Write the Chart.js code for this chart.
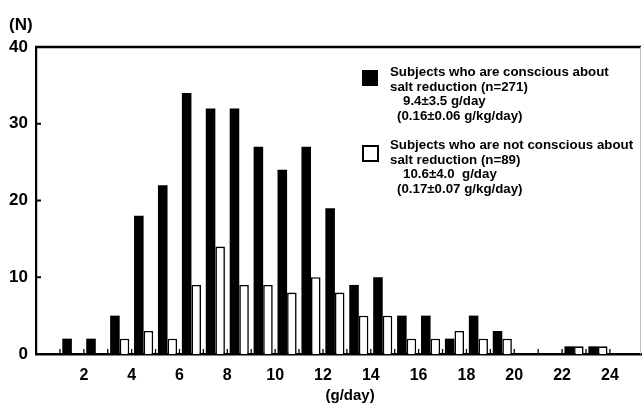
<!DOCTYPE html>
<html><head><meta charset="utf-8">
<script src="https://cdn.jsdelivr.net/npm/chart.js@4/dist/chart.umd.min.js"></script>
<style>
html,body{margin:0;padding:0;background:#fff;}
#wrap{position:relative;width:643px;height:405px;overflow:hidden;font-family:"Liberation Sans",Arial,sans-serif;font-weight:bold;color:#000;}
canvas{position:absolute;left:0;top:0;}
.t{position:absolute;white-space:pre;}
.sq{position:absolute;box-sizing:border-box;}
.lg{position:absolute;font-size:13.3px;line-height:14.5px;white-space:pre;}
</style></head><body>
<div id="wrap"><canvas id="c" width="643" height="405"></canvas><div id="over"></div></div>
<script>
// ---- data ----
const binStarts          = [1, 2, 3, 4, 5, 6, 7, 8, 9, 10, 11, 12, 13, 14, 15, 16, 17, 18, 19, 20, 21, 22, 23];
const consciousCounts    = [2, 2, 5, 18, 22, 34, 32, 32, 27, 24, 27, 19, 9, 10, 5, 5, 2, 5, 3, 0, 0, 1, 1];
const notConsciousCounts = [0, 0, 2, 3, 2, 9, 14, 9, 9, 8, 10, 8, 5, 5, 2, 2, 3, 2, 2, 0, 0, 1, 1];
const xTickValues = [2, 4, 6, 8, 10, 12, 14, 16, 18, 20, 22, 24];
const yTickValues = [0, 10, 20, 30, 40];
const seriesNames = ["Subjects who are conscious about\nsalt reduction (n=271)",
                     "Subjects who are not conscious about\nsalt reduction (n=89)"];
const seriesStats = [["9.4±3.5 g/day", "(0.16±0.06 g/kg/day)"],
                     ["10.6±4.0  g/day", "(0.17±0.07 g/kg/day)"]];
const xAxisTitle = "(g/day)";
const yAxisTitle = "(N)";

const boldFont = (s) => ({family: '"Liberation Sans", Arial, sans-serif', weight: 'bold', size: s});

const axisMarks = {
  id: 'axisMarks',
  afterDatasetsDraw(chart) {
    const {ctx, chartArea: a, scales: {x, y}} = chart;
    ctx.save();
    ctx.strokeStyle = '#000';
    // top frame
    ctx.lineWidth = 2.5;
    ctx.beginPath(); ctx.moveTo(a.left - 1, a.top); ctx.lineTo(a.right, a.top); ctx.stroke();
    // faint right frame
    ctx.strokeStyle = '#bbb'; ctx.lineWidth = 1;
    ctx.beginPath(); ctx.moveTo(a.right - 0.5, a.top); ctx.lineTo(a.right - 0.5, a.bottom); ctx.stroke();
    // small inward ticks on the x axis at every bin edge
    ctx.strokeStyle = '#000'; ctx.lineWidth = 1.3;
    const first = binStarts[0], last = binStarts[binStarts.length - 1] + 1;
    for (let v = first; v <= last; v++) {
      const px = x.getPixelForValue(v);
      ctx.beginPath(); ctx.moveTo(px, a.bottom); ctx.lineTo(px, a.bottom - 5); ctx.stroke();
    }
    // inward ticks on the y axis
    ctx.lineWidth = 2;
    for (const v of yTickValues) {
      if (v <= y.min || v >= y.max) continue;
      const py = y.getPixelForValue(v);
      ctx.beginPath(); ctx.moveTo(a.left, py); ctx.lineTo(a.left + 5, py); ctx.stroke();
    }
    ctx.restore();
  }
};

const chart = new Chart(document.getElementById('c'), {
  type: 'bar',
  data: {
    datasets: [
      {label: seriesNames[0], data: binStarts.map((b, i) => ({x: b + 0.5, y: consciousCounts[i]})),
       backgroundColor: '#000', borderColor: '#000', borderWidth: 0},
      {label: seriesNames[1], data: binStarts.map((b, i) => ({x: b + 0.5, y: notConsciousCounts[i]})),
       backgroundColor: '#fff', borderColor: '#000', borderWidth: 1.6}
    ]
  },
  options: {
    responsive: false,
    devicePixelRatio: 1,
    animation: false,
    layout: {padding: {left: 0, right: 2, top: 47, bottom: 0}},
    plugins: {legend: {display: false}, tooltip: {enabled: false}},
    datasets: {bar: {categoryPercentage: 0.8, barPercentage: 1, grouped: true}},
    scales: {
      x: {
        type: 'linear', min: 0, max: 25.3, offset: false,
        grid: {display: false, drawTicks: false},
        border: {display: true, color: '#000', width: 2.5},
        afterBuildTicks: (s) => { s.ticks = xTickValues.map(v => ({value: v})); },
        afterFit: (s) => { s.height = 51; },
        ticks: {color: '#000', font: boldFont(16), padding: 12, autoSkip: false, maxRotation: 0, minRotation: 0,
                callback: (v) => String(v)}
      },
      y: {
        type: 'linear', min: 0, max: 40,
        grid: {display: false, drawTicks: false},
        border: {display: true, color: '#000', width: 2.2},
        afterBuildTicks: (s) => { s.ticks = yTickValues.map(v => ({value: v})); },
        afterFit: (s) => { s.width = 36; },
        ticks: {color: '#000', font: boldFont(17), padding: 8, callback: (v) => String(v)}
      }
    }
  },
  plugins: [axisMarks]
});

// ---- overlay text: axis titles and legend ----
const over = document.getElementById('over');
function addText(txt, left, top, size, cls) {
  const d = document.createElement('div');
  d.className = cls || 't'; d.textContent = txt;
  d.style.left = left + 'px'; d.style.top = top + 'px';
  if (size) d.style.fontSize = size + 'px';
  over.appendChild(d); return d;
}
addText(yAxisTitle, 9, 15, 17);
const xt = addText(xAxisTitle, 0, 386, 15);
xt.style.left = (350 - xt.offsetWidth / 2) + 'px';

const legendLayout = [
  {sq: [362, 70, 16, 16], x: 390, y: 65, statX: [403, 397]},
  {sq: [362, 145, 17, 17], x: 390, y: 138, statX: [403, 397]}
];
chart.data.datasets.forEach((ds, i) => {
  const L = legendLayout[i];
  const s = document.createElement('div');
  s.className = 'sq';
  Object.assign(s.style, {left: L.sq[0] + 'px', top: L.sq[1] + 'px', width: L.sq[2] + 'px', height: L.sq[3] + 'px',
    background: ds.backgroundColor, border: '2px solid ' + ds.borderColor});
  over.appendChild(s);
  const lines = ds.label.split('\n');
  lines.forEach((ln, k) => addText(ln, L.x, L.y + k * 14.5, null, 'lg'));
  seriesStats[i].forEach((ln, k) => addText(ln, L.statX[k], L.y + (lines.length + k) * 14.5, null, 'lg'));
});
</script>
</body></html>
